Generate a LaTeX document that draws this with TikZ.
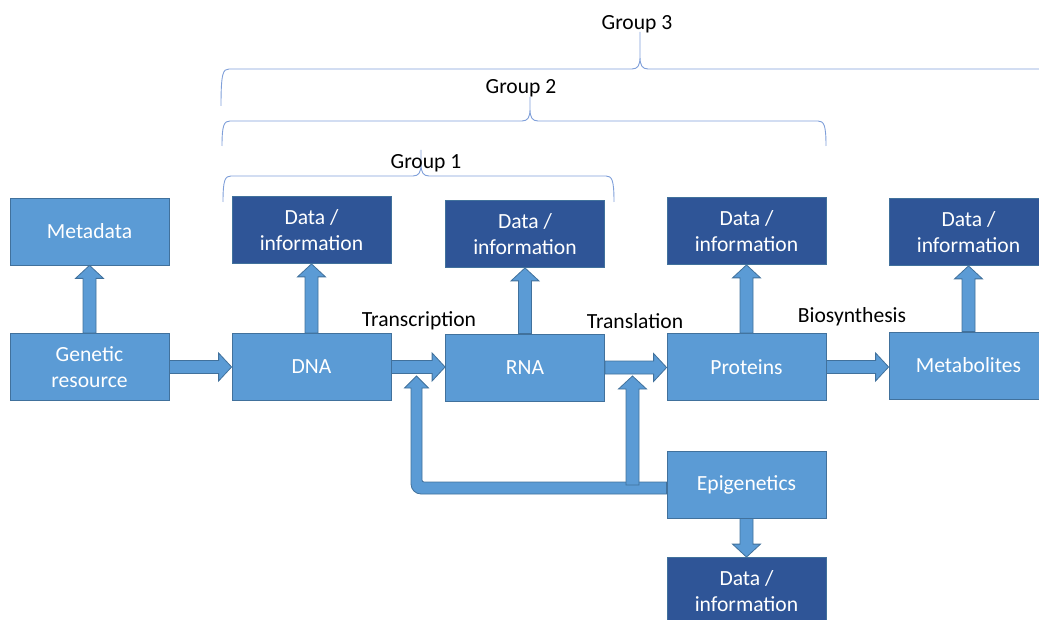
\documentclass[tikz,border=0pt]{standalone}
\usepackage{fontspec}
\setmainfont{Carlito}
\usepackage{tikz}
\usetikzlibrary{calc}

\definecolor{boxblue}{HTML}{5B9BD5}
\definecolor{darkblue}{HTML}{2F5597}
\definecolor{edgeblue}{HTML}{41719C}
\definecolor{braceblue}{HTML}{7F9FD9}

% curly bracket over a group: x1, x2, middle x, line y, end y, tip y
\newcommand{\groupbrace}[6]{%
  \draw[bracket] (#1,#5) .. controls (#1,#4+4) and (#1+2,#4) .. (#1+8,#4)
    -- (#3-8,#4) .. controls (#3-2,#4) and (#3,#4-4) .. (#3,#4-12) -- (#3,#6)
    (#3,#4-12) .. controls (#3,#4-4) and (#3+2,#4) .. (#3+8,#4)
    -- (#2-8,#4) .. controls (#2-2,#4) and (#2,#4+4) .. (#2,#5);}

\begin{document}
\begin{tikzpicture}[
            x=1pt, y=-1pt,
            every node/.style={font=\fontsize{21.6}{25.5}\selectfont, align=center}, % Calibri-like text
            box/.style={rectangle, draw=edgeblue, fill=boxblue, text=white, line width=0.8pt,
                        minimum width=159pt, minimum height=67pt, inner sep=0pt}, % light box
            databox/.style={box, fill=darkblue}, % dark box for data
            label/.style={inner sep=1pt}, % text over the arrows
            bracket/.style={draw=braceblue, line width=0.9pt}, % group brackets
            blockarrow/.style={fill=boxblue, draw=edgeblue, line width=0.8pt,
              to path={($(\tikztotarget)!13pt!(\tikztostart)$) coordinate (q)
                ($(\tikztostart)!6.5pt!90:(\tikztotarget)$)
                -- ($(q)!6.5pt!90:(\tikztotarget)$) -- ($(q)!14pt!90:(\tikztotarget)$)
                -- (\tikztotarget)
                -- ($(q)!14pt!-90:(\tikztotarget)$) -- ($(q)!6.5pt!-90:(\tikztotarget)$)
                -- ($(\tikztostart)!6.5pt!-90:(\tikztotarget)$) -- cycle}} % thick arrow
            ]
    \useasboundingbox (0,0) rectangle (1039,620);

    % main chain
    \node[box] (meta) at (89.5,231.5) {Metadata};
    \node[box] (gen) at (89.5,367) {Genetic\\resource};
    \node[box] (dna) at (311.5,367) {DNA};
    \node[box] (rna) at (525,367.5) {RNA};
    \node[box] (prot) at (746.5,367) {Proteins};
    \node[box] (metab) at (968.5,365.5) {Metabolites};
    \node[box] (epi) at (746.5,484.5) {Epigenetics};

    % data boxes
    \node[databox] (dnadata) at (311.5,230) {Data /\\information};
    \node[databox] (rnadata) at (525,234) {Data /\\information};
    \node[databox] (protdata) at (746.5,231) {Data /\\information};
    \node[databox] (metabdata) at (968.5,232) {Data /\\information};
    \node[databox] (epidata) at (746.5,591) {Data /\\information};

    % step labels
    \node[label] (transcr) at (419,321) {Transcription};
    \node[label] (transl) at (635,321) {Translation};
    \node[label] (biosyn) at (852,317) {Biosynthesis};

    % up arrows to the data
    \draw[blockarrow] (gen.north) to (meta.south);
    \draw[blockarrow] (dna.north) to (dnadata.south);
    \draw[blockarrow] (rna.north) to (rnadata.south);
    \draw[blockarrow] (prot.north) to (protdata.south);
    \draw[blockarrow] (metab.north) to (metabdata.south);
    \draw[blockarrow] (epi.south) to (epidata.north);

    % along the chain
    \draw[blockarrow] (gen.east) to (gen.east -| dna.west);
    \draw[blockarrow] (dna.east) to (dna.east -| rna.west);
    \draw[blockarrow] (rna.east) to (rna.east -| prot.west);
    \draw[blockarrow] (prot.east) to (prot.east -| metab.west);

    % epigenetics feedback
    \coordinate (fbstart) at ($(epi.west)+(0,3.5)$);
    \coordinate (fbtip) at (416.5,376);
    \coordinate (fbcorner) at (fbtip |- fbstart);
    \fill[boxblue, draw=edgeblue, line width=0.8pt]
      ($(fbstart)+(0,-6)$) [rounded corners=2pt] -- ($(fbcorner)+(5.5,-6)$) [sharp corners]
      -- ($(fbtip)+(5.5,12)$) -- ($(fbtip)+(12,12)$) -- (fbtip) -- ($(fbtip)+(-12,12)$)
      -- ($(fbtip)+(-5.5,12)$) [rounded corners=10pt] -- ($(fbcorner)+(-5.5,6)$) [sharp corners]
      -- ($(fbstart)+(0,6)$) -- cycle;
    \coordinate (fbjoin) at (632.5,485);
    \coordinate (tltip) at (632.5,376);
    \draw[blockarrow] (fbjoin) to (tltip);

    % groups
    \groupbrace{223}{614}{421}{176}{202}{150}
    \groupbrace{222}{826}{530}{121}{146}{97}
    \groupbrace{221}{1250}{640}{69}{106}{32}
    \node[label] (group1) at (426,163) {Group 1};
    \node[label] (group2) at (521,88) {Group 2};
    \node[label] (group3) at (637,24) {Group 3};

\end{tikzpicture}
\end{document}
